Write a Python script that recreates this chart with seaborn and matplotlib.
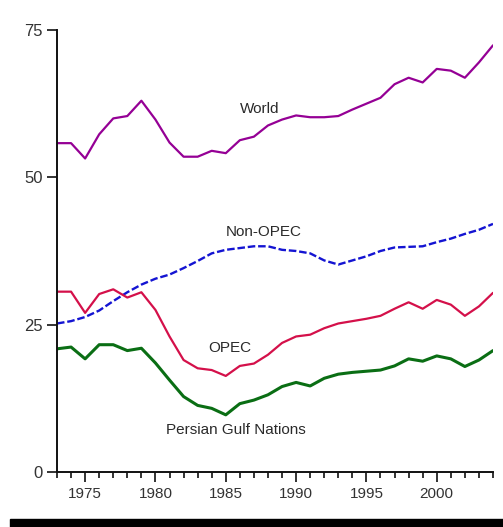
import numpy as np
import pandas as pd
import matplotlib
matplotlib.use("Agg")
import matplotlib.pyplot as plt
from matplotlib.ticker import MultipleLocator
from matplotlib.patches import Rectangle
import seaborn as sns

years = list(range(1973, 2005))

world = [55.8, 55.8, 53.2, 57.3, 60.0, 60.4, 63.0, 59.8, 55.9, 53.5,
         53.5, 54.5, 54.1, 56.3, 56.9, 58.8, 59.8, 60.5, 60.2, 60.2,
         60.4, 61.5, 62.5, 63.5, 65.8, 66.9, 66.1, 68.4, 68.1, 66.9,
         69.5, 72.4]

non_opec = [25.2, 25.6, 26.3, 27.4, 29.0, 30.5, 31.8, 32.8, 33.5, 34.6,
            35.8, 37.1, 37.7, 38.0, 38.3, 38.3, 37.7, 37.5, 37.1, 35.9,
            35.2, 35.9, 36.6, 37.5, 38.1, 38.2, 38.3, 39.0, 39.6, 40.4,
            41.1, 42.1]

opec = [30.6, 30.6, 27.0, 30.2, 31.0, 29.6, 30.5, 27.5, 23.0, 19.0,
        17.6, 17.3, 16.3, 18.0, 18.4, 19.9, 21.9, 23.0, 23.3, 24.4,
        25.2, 25.6, 26.0, 26.5, 27.7, 28.8, 27.7, 29.2, 28.4, 26.5,
        28.1, 30.4]

persian_gulf = [20.9, 21.2, 19.2, 21.6, 21.6, 20.6, 21.0, 18.5, 15.6, 12.8,
                11.3, 10.8, 9.7, 11.6, 12.2, 13.1, 14.5, 15.2, 14.6, 15.9,
                16.6, 16.9, 17.1, 17.3, 18.0, 19.2, 18.8, 19.7, 19.2, 17.9,
                19.0, 20.6]

series_names = ["World", "Non-OPEC", "OPEC", "Persian Gulf Nations"]
y_ticks = [0, 25, 50, 75]
x_major = [1975, 1980, 1985, 1990, 1995, 2000]

sns.set_style("ticks")
plt.rcParams['font.family'] = ['Liberation Sans', 'DejaVu Sans']

fig = plt.figure(figsize=(5.03, 5.27), dpi=100)
ax = fig.add_axes([57 / 503, 55 / 527, 436 / 503, 442 / 527])

sns.lineplot(x=years, y=world, ax=ax, color="#950095", linewidth=1.6)
sns.lineplot(x=years, y=non_opec, ax=ax, color="#1414d2", linewidth=1.7,
             linestyle=(0, (3.2, 1.2)))
sns.lineplot(x=years, y=opec, ax=ax, color="#d4104a", linewidth=1.6)
sns.lineplot(x=years, y=persian_gulf, ax=ax, color="#0a6e14", linewidth=2.2)

ax.set_xlim(1973, 2004)
ax.set_ylim(0, 75)
ax.set_yticks(y_ticks)
ax.set_yticklabels([str(v) for v in y_ticks])
ax.set_xticks(x_major)
ax.set_xticklabels([str(v) for v in x_major])
ax.xaxis.set_minor_locator(MultipleLocator(1))
ax.tick_params(axis="both", which="major", length=7, width=1.2,
               colors="#111111", labelcolor="#333333", pad=3)
ax.tick_params(axis="y", which="major", labelsize=12)
ax.tick_params(axis="x", which="major", labelsize=11, pad=4)
ax.tick_params(axis="x", which="minor", length=4.5, width=1.2, color="#111111")
for side in ["top", "right"]:
    ax.spines[side].set_visible(False)
for side in ["left", "bottom"]:
    ax.spines[side].set_linewidth(1.4)
    ax.spines[side].set_color("#111111")
ax.set_xlabel("")
ax.set_ylabel("")

label_pos = [(1987.42, 61.6), (1987.70, 40.8), (1985.29, 21.1), (1985.75, 7.08)]
for name, (lx, ly) in zip(series_names, label_pos):
    ax.text(lx, ly, name, ha="center", va="center", fontsize=11, color="#2a2a2a")

fig.patches.append(Rectangle((10 / 503, 0), 1 - 10 / 503, 8 / 527,
                             transform=fig.transFigure, color="black",
                             zorder=10))

fig.savefig("out.png", dpi=100)
